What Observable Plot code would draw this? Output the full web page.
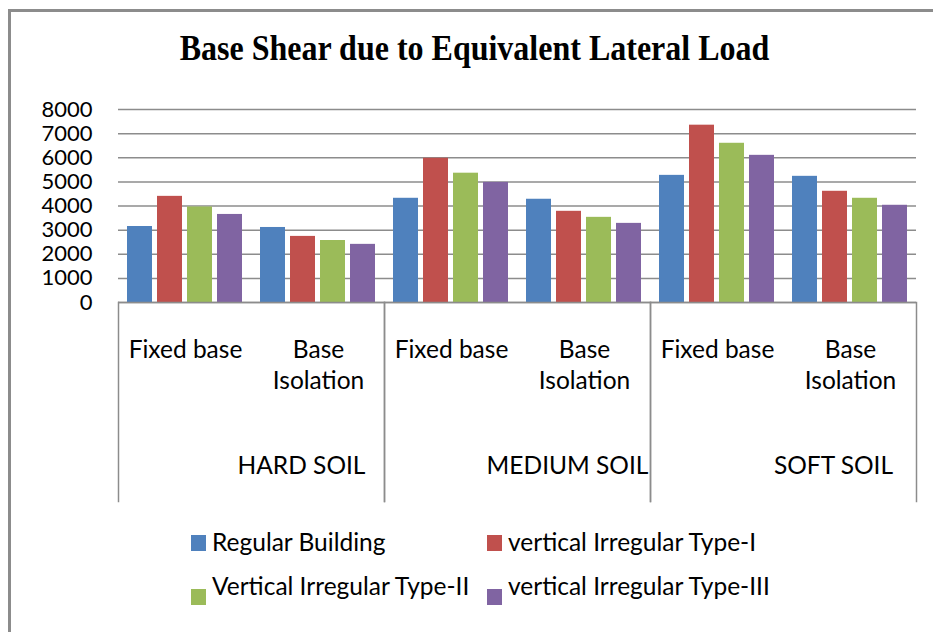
<!DOCTYPE html>
<html><head><meta charset="utf-8">
<script src="https://cdn.jsdelivr.net/npm/d3@7"></script>
<script src="https://cdn.jsdelivr.net/npm/@observablehq/plot@0.6"></script>
<style>
body{margin:0;background:#fff;}
#wrap{position:relative;width:933px;height:632px;overflow:hidden;font-family:Lato,sans-serif;background:#fff;}
#border{position:absolute;left:8px;top:9px;width:1000px;height:1000px;border-top:3px solid #8c8c8c;border-left:3px solid #8c8c8c;}
#title{position:absolute;left:0;width:949px;text-align:center;top:33px;font:bold 32px/32px "Liberation Serif","Times New Roman",serif;color:#000;white-space:nowrap;transform:scaleY(1.1);transform-origin:50% 80%;}
#main,#cat{position:absolute;left:0;}
#main{top:0;}
#cat{top:302px;}
.leg{position:absolute;height:30px;font:24.5px/30px Lato,sans-serif;color:#000;white-space:nowrap;}
.sw{position:absolute;left:0;width:15px;height:16px;}
.lt{position:absolute;left:21px;top:0;}
</style>
</head><body>
<div id="wrap">
  <div id="border"></div>
  <div id="title">Base Shear due to Equivalent Lateral Load</div>
  <div id="main"></div>
  <div id="cat"></div>
</div>
<script>
// ---- data ----
const soils = ["HARD SOIL", "MEDIUM SOIL", "SOFT SOIL"];
const bases = ["Fixed base", "Base Isolation"];
const baseLabels = ["Fixed base", "Base\nIsolation"];
const series = ["Regular Building", "vertical Irregular Type-I", "Vertical Irregular Type-II", "vertical Irregular Type-III"];
const colors = ["#4F81BD", "#C0504D", "#9BBB59", "#8064A2"];
// order: hard-fixed, hard-iso, medium-fixed, medium-iso, soft-fixed, soft-iso
const regular = [3150, 3110, 4320, 4280, 5270, 5230];
const typeI   = [4400, 2740, 5980, 3780, 7350, 4610];
const typeII  = [3960, 2570, 5360, 3530, 6600, 4320];
const typeIII = [3650, 2410, 4980, 3280, 6100, 4030];
const yMax = 8000;

// ---- build tables ----
const seriesValues = [regular, typeI, typeII, typeIII];
const groups = [];
const rows = [];
const subRows = [];
soils.forEach((soil, i) => {
  bases.forEach((base, j) => {
    const k = i * bases.length + j;
    const g = soil + "|" + base;
    groups.push(g);
    subRows.push({soil, base, label: baseLabels[j]});
    series.forEach((s, si) => rows.push({group: g, series: s, value: seriesValues[si][k]}));
  });
});

const gridColor = "#8c8c8c";

const main = Plot.plot({
  width: 933, height: 305,
  marginTop: 109, marginBottom: 3, marginLeft: 117, marginRight: 17,
  style: {fontFamily: "Lato, sans-serif", fontSize: "22px", color: "#000", background: "transparent", overflow: "visible"},
  fx: {domain: groups, padding: 0, axis: null},
  x: {domain: series, paddingInner: 0.175, paddingOuter: 0.28, axis: null},
  y: {domain: [0, yMax], ticks: 8, tickSize: 0, tickPadding: 26, label: null, tickFormat: "d"},
  color: {domain: series, range: colors},
  marks: [
    Plot.gridY({ticks: 8, stroke: gridColor, strokeWidth: 1.5, strokeOpacity: 1}),
    Plot.barY(rows, {fx: "group", x: "series", y: "value", fill: "series"}),
    Plot.ruleY([0], {stroke: gridColor, strokeWidth: 1.5})
  ]
});
document.getElementById("main").appendChild(main);

const cat = Plot.plot({
  width: 933, height: 199,
  marginTop: 0, marginBottom: 0, marginLeft: 117, marginRight: 17,
  style: {fontFamily: "Lato, sans-serif", fontSize: "24.5px", color: "#000", background: "transparent", overflow: "visible"},
  fx: {domain: soils, padding: 0, axis: null},
  x: {type: "point", domain: bases, padding: 0.5, axis: null},
  marks: [
    Plot.frame({anchor: "left", stroke: gridColor, strokeWidth: 1.5}),
    Plot.frame({anchor: "right", stroke: gridColor, strokeWidth: 1.5}),
    Plot.text(subRows, {fx: "soil", x: "base", text: "label", frameAnchor: "top", lineAnchor: "top", dy: 34, lineHeight: 1.25, fontSize: 24.5, fill: "#000"}),
    Plot.text(soils, {fx: d => d, text: d => d, frameAnchor: "top", lineAnchor: "top", dy: 154, dx: 50, fontSize: 24.5, fill: "#000"})
  ]
});
document.getElementById("cat").appendChild(cat);

// ---- legend ----
const wrap = document.getElementById("wrap");
const colLeft = [191, 487];
const rowTop = [527, 571];
const swTop = [8, 18];
series.forEach((s, i) => {
  const c = i % 2, r = Math.floor(i / 2);
  const item = document.createElement("div");
  item.className = "leg";
  item.style.left = colLeft[c] + "px";
  item.style.top = rowTop[r] + "px";
  const sw = document.createElement("div");
  sw.className = "sw";
  sw.style.top = swTop[r] + "px";
  sw.style.background = colors[i];
  const t = document.createElement("span");
  t.className = "lt";
  t.textContent = s;
  item.appendChild(sw);
  item.appendChild(t);
  wrap.appendChild(item);
});
</script>
</body></html>
